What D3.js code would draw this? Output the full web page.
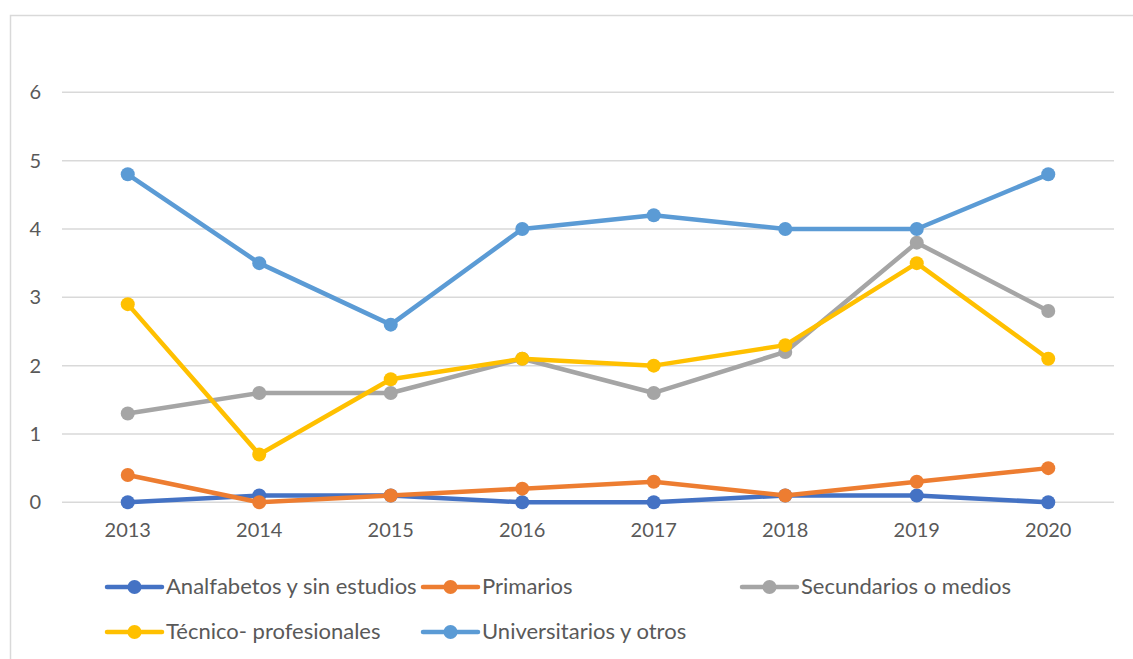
<!DOCTYPE html>
<html lang="es">
<head>
<meta charset="UTF-8">
<title>Nivel de estudios 2013-2020</title>
<script src="https://d3js.org/d3.v7.min.js"></script>
<style>
  html, body { margin: 0; padding: 0; background: #fff; }
  svg { display: block; font-family: Lato, "Open Sans", sans-serif; }
</style>
</head>
<body>
<svg id="chart" width="1133" height="659"></svg>
<script>
// data
var years = ['2013', '2014', '2015', '2016', '2017', '2018', '2019', '2020'];
var yTicks = [0, 1, 2, 3, 4, 5, 6];
var seriesNames = ['Analfabetos y sin estudios', 'Primarios', 'Secundarios o medios', 'Técnico- profesionales', 'Universitarios y otros'];
var seriesColors = ['#4472C4', '#ED7D31', '#A5A5A5', '#FFC000', '#5B9BD5'];
var analfabetos = [0, 0.1, 0.1, 0, 0, 0.1, 0.1, 0];
var primarios = [0.4, 0, 0.1, 0.2, 0.3, 0.1, 0.3, 0.5];
var secundarios = [1.3, 1.6, 1.6, 2.1, 1.6, 2.2, 3.8, 2.8];
var tecnico = [2.9, 0.7, 1.8, 2.1, 2.0, 2.3, 3.5, 2.1];
var universitarios = [4.8, 3.5, 2.6, 4.0, 4.2, 4.0, 4.0, 4.8];

var allSeries = [analfabetos, primarios, secundarios, tecnico, universitarios];

var svg = d3.select('#chart');

// chart frame
svg.append('rect')
    .attr('x', 10.5).attr('y', 15.5)
    .attr('width', 1140).attr('height', 660)
    .attr('fill', 'none')
    .attr('stroke', '#d9d9d9')
    .attr('stroke-width', 1.5);

var x = d3.scaleBand().domain(years).range([62, 1114]);
var y = d3.scaleLinear().domain([0, 6]).range([502.3, 92.3]);

// gridlines
svg.append('g')
    .selectAll('line')
    .data(yTicks)
    .enter()
    .append('line')
    .attr('x1', 62).attr('x2', 1114)
    .attr('y1', function(d){ return y(d); })
    .attr('y2', function(d){ return y(d); })
    .attr('stroke', '#d9d9d9')
    .attr('stroke-width', 1.5);

// y axis labels
var yAxis = svg.append('g')
    .attr('transform', 'translate(50,0)')
    .call(d3.axisLeft(y).tickValues(yTicks).tickSize(0).tickPadding(9).tickFormat(d3.format('d')));
yAxis.select('.domain').remove();
yAxis.selectAll('text')
    .style('font-family', 'Lato, sans-serif')
    .style('font-size', '20px')
    .attr('fill', '#595959');

// x axis labels
var xAxis = svg.append('g')
    .attr('transform', 'translate(0,512)')
    .call(d3.axisBottom(x).tickSize(0).tickPadding(11));
xAxis.select('.domain').remove();
xAxis.selectAll('text')
    .style('font-family', 'Lato, sans-serif')
    .style('font-size', '20px')
    .attr('fill', '#595959');

var line = d3.line()
    .x(function(d, i){ return x(years[i]) + x.bandwidth() / 2; })
    .y(function(d){ return y(d); });

allSeries.forEach(function(values, k){
    var g = svg.append('g');
    g.append('path')
        .datum(values)
        .attr('d', line)
        .attr('fill', 'none')
        .attr('stroke', seriesColors[k])
        .attr('stroke-width', 4.5)
        .attr('stroke-linejoin', 'round');
    g.selectAll('circle')
        .data(values)
        .enter()
        .append('circle')
        .attr('cx', function(d, i){ return x(years[i]) + x.bandwidth() / 2; })
        .attr('cy', function(d){ return y(d); })
        .attr('r', 7)
        .attr('fill', seriesColors[k]);
});

// legend
var legendPos = [
    {x: 107, y: 587},
    {x: 423, y: 587},
    {x: 742, y: 587},
    {x: 107, y: 632},
    {x: 423, y: 632}
];
var legendLen = 55;
var legend = svg.append('g').attr('id', 'legend');
seriesNames.forEach(function(name, k){
    var p = legendPos[k];
    var item = legend.append('g');
    item.append('line')
        .attr('x1', p.x).attr('x2', p.x + legendLen)
        .attr('y1', p.y).attr('y2', p.y)
        .attr('stroke', seriesColors[k])
        .attr('stroke-width', 4.5)
        .attr('stroke-linecap', 'round');
    item.append('circle')
        .attr('cx', p.x + legendLen / 2).attr('cy', p.y)
        .attr('r', 7)
        .attr('fill', seriesColors[k]);
    item.append('text')
        .attr('x', p.x + legendLen + 4)
        .attr('y', p.y + 7)
        .text(name)
        .style('font-size', '22px')
        .attr('fill', '#595959');
});
</script>
</body>
</html>
